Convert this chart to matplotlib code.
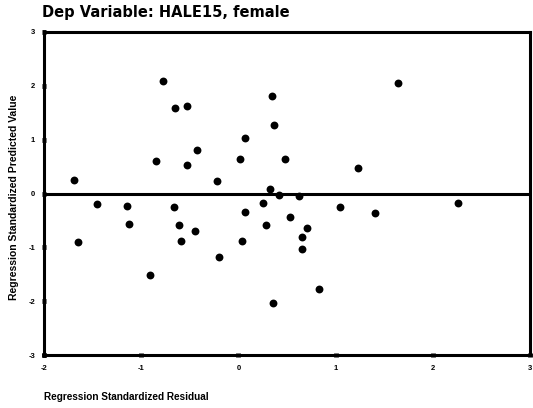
import matplotlib
matplotlib.use("Agg")
import matplotlib.pyplot as plt

plt.rcParams['font.family'] = ['Liberation Sans', 'DejaVu Sans']

# Regression standardized residual (x) and predicted value (y)
residual = [-1.69, -0.78, -0.65, -0.53, -0.85, -0.53, -0.43, -0.22, 0.02, 0.07,
            0.35, 0.37, 0.48, 0.32, 0.42, 1.64, 1.23, 2.26, 0.62, 0.25,
            1.05, -1.45, -1.15, -0.66, -1.13, -1.65, -0.61, -0.45, -0.59, -0.20,
            -0.91, 0.07, 0.04, 0.28, 0.36, 0.53, 0.71, 0.65, 0.65, 0.83, 1.41]
predicted = [0.26, 2.09, 1.59, 1.62, 0.60, 0.53, 0.80, 0.24, 0.64, 1.04,
             1.81, 1.27, 0.65, 0.09, -0.03, 2.05, 0.48, -0.17, -0.04, -0.18,
             -0.26, -0.20, -0.23, -0.26, -0.56, -0.90, -0.59, -0.69, -0.89, -1.18,
             -1.52, -0.35, -0.88, -0.58, -2.03, -0.44, -0.64, -0.81, -1.04, -1.77, -0.37]

xticks = [-2, -1, 0, 1, 2, 3]
yticks = [-3, -2, -1, 0, 1, 2, 3]

title = "Dep Variable: HALE15, female"
xlabel = "Regression Standardized Residual"
ylabel = "Regression Standardized Predicted Value"

fig = plt.figure(figsize=(5.33, 4.08), dpi=100)
ax = fig.add_axes([44/533, 1-355/408, (530-44)/533, (355-32)/408])

ax.axhline(0, color='black', lw=2.2, zorder=2)
ax.scatter(residual, predicted, s=32, color='black', zorder=3, linewidths=0)

ax.set_xlim(-2, 3)
ax.set_ylim(-3, 3)
ax.set_xticks(xticks)
ax.set_yticks(yticks)
ax.set_xticklabels([str(t) for t in xticks], fontsize=5.5, fontweight='bold')
ax.set_yticklabels([str(t) for t in yticks], fontsize=5.5, fontweight='bold')
ax.tick_params(axis='both', length=3, width=3.5, direction='inout', color='black')
ax.tick_params(axis='x', pad=6)
ax.tick_params(axis='y', pad=5)

for s in ax.spines.values():
    s.set_linewidth(2.2)
    s.set_color('black')

fig.text(42/533, 1-13/408, title, fontsize=10.5, fontweight='bold', ha='left', va='center',
         family=['DejaVu Sans'])
fig.text(14/533, 1-197/408, ylabel, fontsize=7.5, fontweight='bold', rotation=90,
         ha='center', va='center')
fig.text(44/533, 1-397/408, xlabel, fontsize=7.2, fontweight='bold', ha='left', va='center')

fig.savefig("out.png", dpi=100)
